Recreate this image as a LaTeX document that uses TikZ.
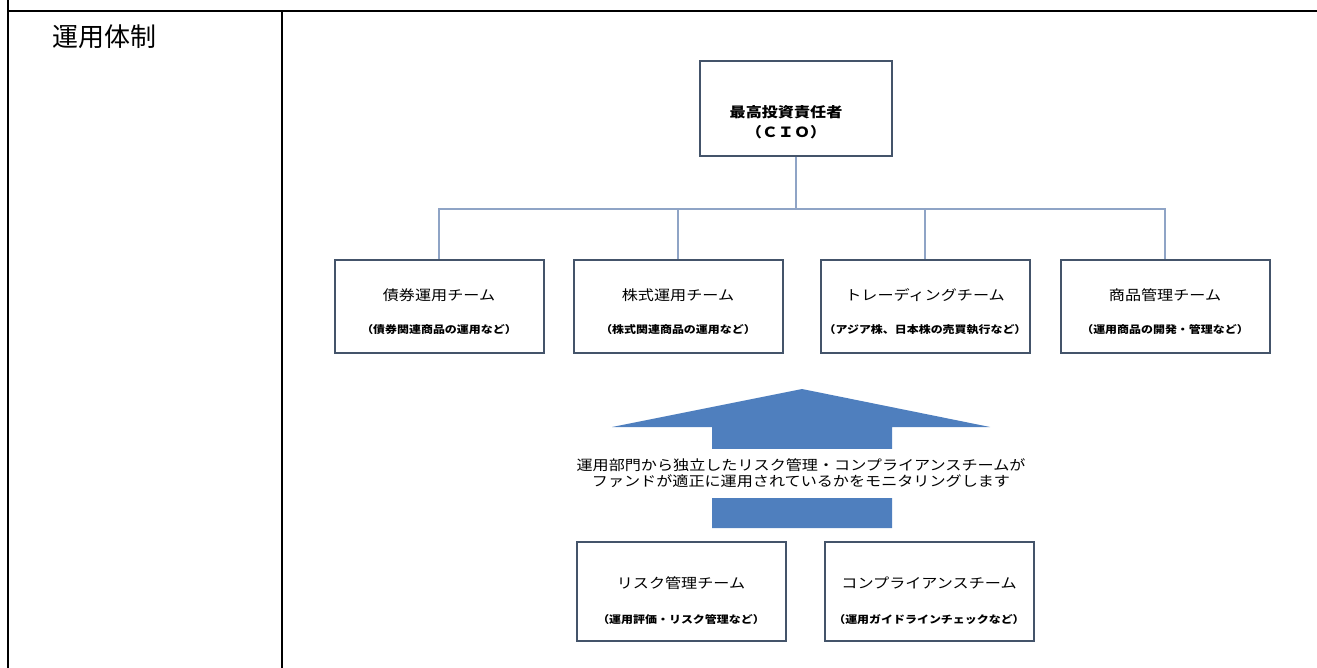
\documentclass[tikz,border=0pt]{standalone}
\usepackage{fontspec}
\setmainfont{Noto Sans CJK JP}
\newfontfamily\chartfont[FakeStretch=1.15]{Noto Sans CJK JP}
\definecolor{boxline}{HTML}{44546A}
\definecolor{linkline}{HTML}{8FA4C6}
\definecolor{arrowfill}{HTML}{4F7FBE}
\tikzset{
	teambox/.style={draw=boxline, line width=2pt, fill=white, minimum width=209pt, minimum height=93pt, inner sep=0pt},
	riskbox/.style={teambox, minimum height=99pt},
	boxtitle/.style={inner sep=0pt, font=\chartfont\fontsize{14}{16}\selectfont},
	boxnote/.style={inner sep=0pt, font=\chartfont\bfseries\fontsize{10.4}{12}\selectfont},
	link/.style={draw=linkline, line width=2pt},
	tablerule/.style={draw=black, line width=2.5pt}
}

\begin{document}
\begin{tikzpicture}[x=1pt,y=-1pt]
	\useasboundingbox (0,0) rectangle (1317,668);

	\draw[tablerule] (8,0) -- (8,668);
	\draw[tablerule] (8,11) -- (1317,11);
	\draw[tablerule] (282,11) -- (282,668);
	\node[anchor=west, inner sep=0pt, font=\fontsize{26}{28}\selectfont] (head) at (52,37) {運用体制};

	\node[teambox, minimum width=192pt, minimum height=95pt] (cio) at (796,108.5) {};
	\node[inner sep=0pt, align=center, font=\chartfont\bfseries\fontsize{14}{20}\selectfont] (cio-t) at (786,122) {最高投資責任者\\（ＣＩＯ）};

	\foreach \n/\x/\boxhead/\boxtext in {
	bond/439/債券運用チーム/（債券関連商品の運用など）,
	equity/678/株式運用チーム/（株式関連商品の運用など）,
	trade/925/トレーディングチーム/（アジア株、日本株の売買執行など）,
	product/1165/商品管理チーム/（運用商品の開発・管理など）}
	{
		\node[teambox] (\n) at (\x,306.5) {};
		\node[boxtitle] (\n-t) at (\x,295) {\boxhead};
		\node[boxnote] (\n-s) at (\x,330) {\boxtext};
	};

	\coordinate (bus) at (796,209);
	\draw[link] (cio) -- (bus);
	\foreach \n in {bond,equity,trade,product}
	{
		\draw[link] (bus) -| (\n.north);
	};

	\fill[arrowfill] (712,528) -- (712,427) -- (612,427) -- (802,389) -- (990,427) -- (892,427) -- (892,528) -- cycle;
	\node[fill=white, minimum height=49pt, inner sep=0pt, align=center, font=\chartfont\fontsize{14}{16}\selectfont] (monitor) at (801,473) {運用部門から独立したリスク管理・コンプライアンスチームが\\ファンドが適正に運用されているかをモニタリングします};

	\foreach \n/\x/\boxhead/\boxtext in {
	risk/681/リスク管理チーム/（運用評価・リスク管理など）,
	comp/929/コンプライアンスチーム/（運用ガイドラインチェックなど）}
	{
		\node[riskbox] (\n) at (\x,591.5) {};
		\node[boxtitle] (\n-t) at (\x,583) {\boxhead};
		\node[boxnote] (\n-s) at (\x,620) {\boxtext};
	};
\end{tikzpicture}
\end{document}
